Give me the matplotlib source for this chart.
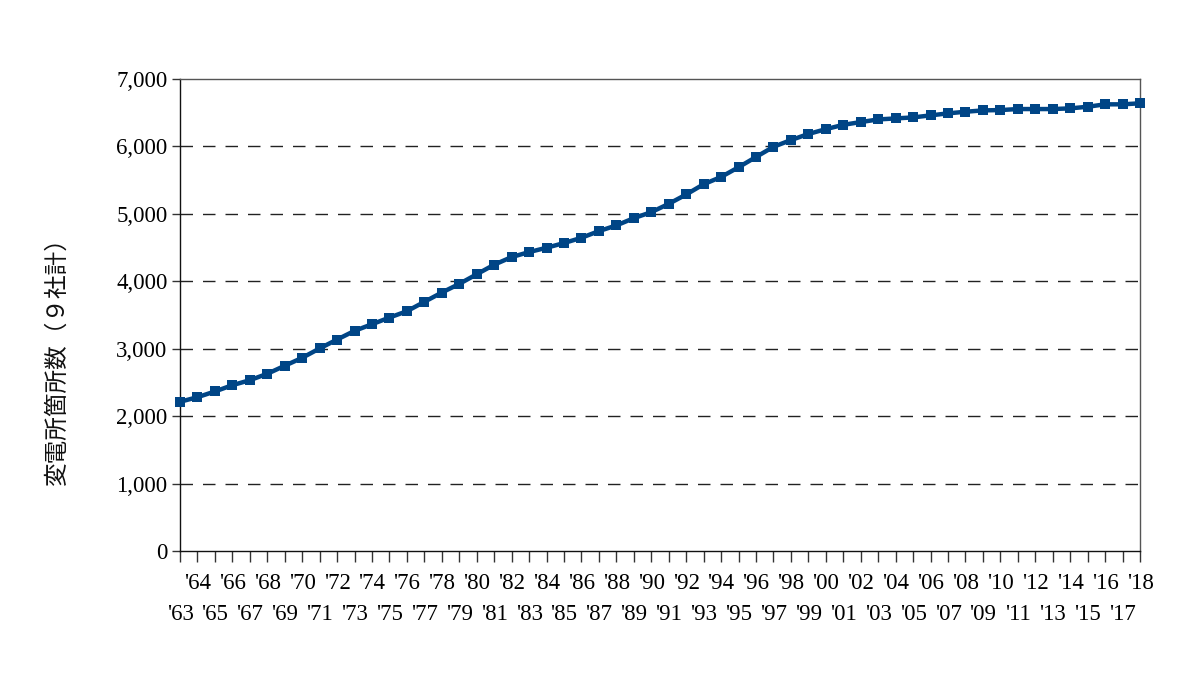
import matplotlib
matplotlib.use("Agg")
import matplotlib.pyplot as plt
from matplotlib.ticker import FuncFormatter, FixedLocator, FixedFormatter

years = list(range(1963, 2019))
counts = [2213, 2281, 2366, 2459, 2533, 2628, 2747, 2865, 3004, 3136,
          3265, 3363, 3462, 3556, 3695, 3833, 3961, 4104, 4246, 4359,
          4433, 4497, 4567, 4645, 4744, 4828, 4936, 5025, 5148, 5287,
          5439, 5547, 5691, 5843, 5994, 6094, 6184, 6256, 6320, 6361,
          6400, 6415, 6430, 6460, 6490, 6514, 6534, 6539, 6554, 6554,
          6554, 6564, 6588, 6624, 6624, 6639]
ylabel = "変電所箇所数（９社計）"
yticks = [0, 1000, 2000, 3000, 4000, 5000, 6000, 7000]

fig = plt.figure(figsize=(12, 6.75), dpi=100)
ax = fig.add_axes([0.15, 0.1837, 0.80, 0.6993])

x = list(range(len(years)))
ax.plot(x, counts, color="#004586", lw=3.2, marker="s", markersize=6.5,
        markeredgewidth=0, clip_on=False, zorder=3)

ax.set_xlim(0, len(years) - 1)
ax.set_ylim(0, 7000)
ax.set_yticks(yticks)
ax.yaxis.set_major_formatter(FuncFormatter(lambda v, p: f"{int(v):,}"))

labels = ["'" + str(y)[2:] for y in years]
lower_pos = [i for i in x if i % 2 == 0]
upper_pos = [i for i in x if i % 2 == 1]
ax.xaxis.set_major_locator(FixedLocator(lower_pos))
ax.xaxis.set_major_formatter(FixedFormatter([labels[i] for i in lower_pos]))
ax.xaxis.set_minor_locator(FixedLocator(upper_pos))
ax.xaxis.set_minor_formatter(FixedFormatter([labels[i] for i in upper_pos]))

ax.tick_params(axis="x", which="major", direction="out", length=8, width=1,
               color="#333333", pad=30.5, labelsize=16.5)
ax.tick_params(axis="x", which="minor", direction="out", length=8, width=1,
               color="#333333", pad=7.5, labelsize=16.5)
ax.tick_params(axis="y", direction="out", length=6, width=1, color="#333333",
               pad=3, labelsize=16.5)
for lab in ax.get_xticklabels(which="both") + ax.get_yticklabels():
    lab.set_fontfamily("Liberation Serif")

for g in yticks[1:-1]:
    ax.axhline(g, color="#222222", lw=1.0, linestyle=(0, (9, 7.2)), zorder=1)

for side in ["left", "bottom"]:
    ax.spines[side].set_color("#111111")
    ax.spines[side].set_linewidth(1.0)
for side in ["top", "right"]:
    ax.spines[side].set_color("#555555")
    ax.spines[side].set_linewidth(1.0)

fig.text(0.0475, 0.474, ylabel, rotation=90, ha="center", va="center",
         fontsize=17, family=["Noto Sans CJK JP", "DejaVu Sans"], color="#111111")

fig.savefig("out.png", dpi=100)
